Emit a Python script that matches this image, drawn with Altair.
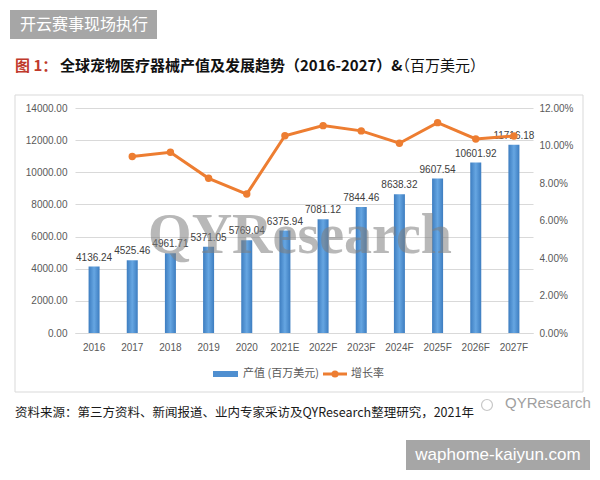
import altair as alt
import pandas as pd

# Global pet medical device output (USD million) and YoY growth, 2016-2027
years = ["2016", "2017", "2018", "2019", "2020", "2021E", "2022F",
         "2023F", "2024F", "2025F", "2026F", "2027F"]
output_values = [4136.24, 4525.46, 4961.71, 5371.05, 5769.04, 6375.94,
                 7081.12, 7844.46, 8638.32, 9607.54, 10601.92, 11716.18]
growth_years = years[1:]
growth_rates = [0.0941, 0.0964, 0.0825, 0.0741, 0.1052, 0.1106,
                0.1078, 0.1012, 0.1122, 0.1035, 0.1051]

bars_df = pd.DataFrame({"year": years, "output": output_values})
growth_df = pd.DataFrame({"year": growth_years, "growth": growth_rates})

PLOT_W, PLOT_H = 458, 225
BLUE = "#4f8fd0"
ORANGE = "#ed7d31"
LABEL_GREY = "#595959"
FONT = "Liberation Sans"
CJK = "Noto Sans CJK SC"

x_scale = alt.Scale(domain=years, type="band", paddingInner=0, paddingOuter=0)
left_scale = alt.Scale(domain=[0, 14000], nice=False)
right_scale = alt.Scale(domain=[0, 0.12], nice=False)

x_axis = alt.Axis(title=None, labelColor=LABEL_GREY, labelFontSize=10, labelFont=FONT,
                  ticks=False, domainColor="#d9d9d9", labelPadding=9, labelAngle=0,
                  grid=False, zindex=1)


def x_enc():
    return alt.X("year:N", scale=x_scale, axis=x_axis, sort=years)


bar_gradient = alt.Gradient(
    gradient="linear", x1=0, x2=1, y1=0, y2=0,
    stops=[alt.GradientStop(color="#3d7dc0", offset=0),
           alt.GradientStop(color="#66a6e2", offset=0.5),
           alt.GradientStop(color="#3d7dc0", offset=1)],
)

bars = alt.Chart(bars_df).mark_bar(size=11, color=bar_gradient).encode(
    x=x_enc(),
    y=alt.Y("output:Q", scale=left_scale,
            axis=alt.Axis(title=None, values=list(range(0, 14001, 2000)), format=".2f",
                          labelColor=LABEL_GREY, labelFontSize=10, labelFont=FONT,
                          ticks=False, domain=False, gridColor="#d9d9d9", labelPadding=8)),
)

bar_labels = alt.Chart(bars_df).mark_text(
    baseline="bottom", dy=-4, fontSize=10, font=FONT, color="#404040"
).encode(
    x=x_enc(),
    y=alt.Y("output:Q", scale=left_scale, axis=None),
    text=alt.Text("output:Q", format=".2f"),
)

growth_line = alt.Chart(growth_df).mark_line(color=ORANGE, strokeWidth=3).encode(
    x=x_enc(),
    y=alt.Y("growth:Q", scale=right_scale,
            axis=alt.Axis(title=None, orient="right", values=[0, 0.02, 0.04, 0.06, 0.08, 0.10, 0.12],
                          format=".2%", labelColor=LABEL_GREY, labelFontSize=10, labelFont=FONT,
                          ticks=False, domain=False, grid=False, labelPadding=6)),
)

growth_points = alt.Chart(growth_df).mark_point(
    filled=True, color=ORANGE, size=55, opacity=1
).encode(
    x=x_enc(),
    y=alt.Y("growth:Q", scale=right_scale, axis=None),
)

# Decorations drawn in pixel space around the plot area
anchor = pd.DataFrame({"k": [0]})


def box(x, x2, y, y2, fill, stroke=None, fill_opacity=1):
    kw = {"fill": fill, "fillOpacity": fill_opacity}
    if stroke:
        kw.update(stroke=stroke, strokeWidth=1)
    return alt.Chart(anchor).mark_rect(**kw).encode(
        x=alt.value(x), x2=alt.value(x2), y=alt.value(y), y2=alt.value(y2))


def label(text, x, y, size, color, font=CJK, weight="normal", align="left", **extra):
    return alt.Chart(anchor).mark_text(
        text=text, fontSize=size, color=color, font=font, fontWeight=weight,
        align=align, baseline="middle", **extra
    ).encode(x=alt.value(x), y=alt.value(y))


frame = box(-60, 508, -13, 284, "white", "#d9d9d9", fill_opacity=0)

header_box = box(-65, 82, -98, -69, "#a6a6a6")
header_text = label("开云赛事现场执行", -55, -83, 16, "white")

title_prefix = label("图 1：", -60, -42, 15, "#c0392b", weight="bold")
title_main = label("全球宠物医疗器械产值及发展趋势（2016-2027）&", -15, -42, 15, "#111111", weight="bold")
title_unit = label("（百万美元）", 320, -42, 15, "#111111")

watermark = label("QYResearch", 225, 128, 56, "#7f7f7f", font="Liberation Serif",
                  weight="bold", align="center", opacity=0.55)

legend_bar = box(138, 163, 263, 269, BLUE)
legend_bar_text = label("产值 (百万美元)", 168, 266, 11, LABEL_GREY)
legend_line = alt.Chart(anchor).mark_rule(color=ORANGE, strokeWidth=3).encode(
    x=alt.value(248), x2=alt.value(272), y=alt.value(266))
legend_dot = alt.Chart(anchor).mark_point(filled=True, color=ORANGE, size=50, opacity=1).encode(
    x=alt.value(260), y=alt.value(266))
legend_line_text = label("增长率", 276, 266, 11, LABEL_GREY)

source_text = label("资料来源：第三方资料、新闻报道、业内专家采访及QYResearch整理研究，2021年",
                    -60, 305, 12.5, "#1a1a1a")
brand_icon = alt.Chart(anchor).mark_point(color="#b0b0b0", size=120, strokeWidth=1.2).encode(
    x=alt.value(412), y=alt.value(297))
brand_text = label("QYResearch", 430, 295, 15, "#a0a0a0", font=FONT)

site_box = box(331, 515, 332, 362, "#a6a6a6")
site_text = label("waphome-kaiyun.com", 423, 347, 17, "white", font=FONT, align="center")

chart = alt.layer(
    frame, bars, bar_labels, growth_line, growth_points, watermark,
    header_box, header_text, title_prefix, title_main, title_unit,
    legend_bar, legend_bar_text, legend_line, legend_dot, legend_line_text,
    source_text, brand_icon, brand_text, site_box, site_text,
).resolve_scale(y="independent").properties(
    width=PLOT_W, height=PLOT_H,
    autosize=alt.AutoSizeParams(type="none"),
    padding={"left": 75, "top": 108, "right": 67, "bottom": 147},
    background="white",
).configure_view(stroke=None)

chart.save("out.html", embed_options={"renderer": "svg", "actions": False})
